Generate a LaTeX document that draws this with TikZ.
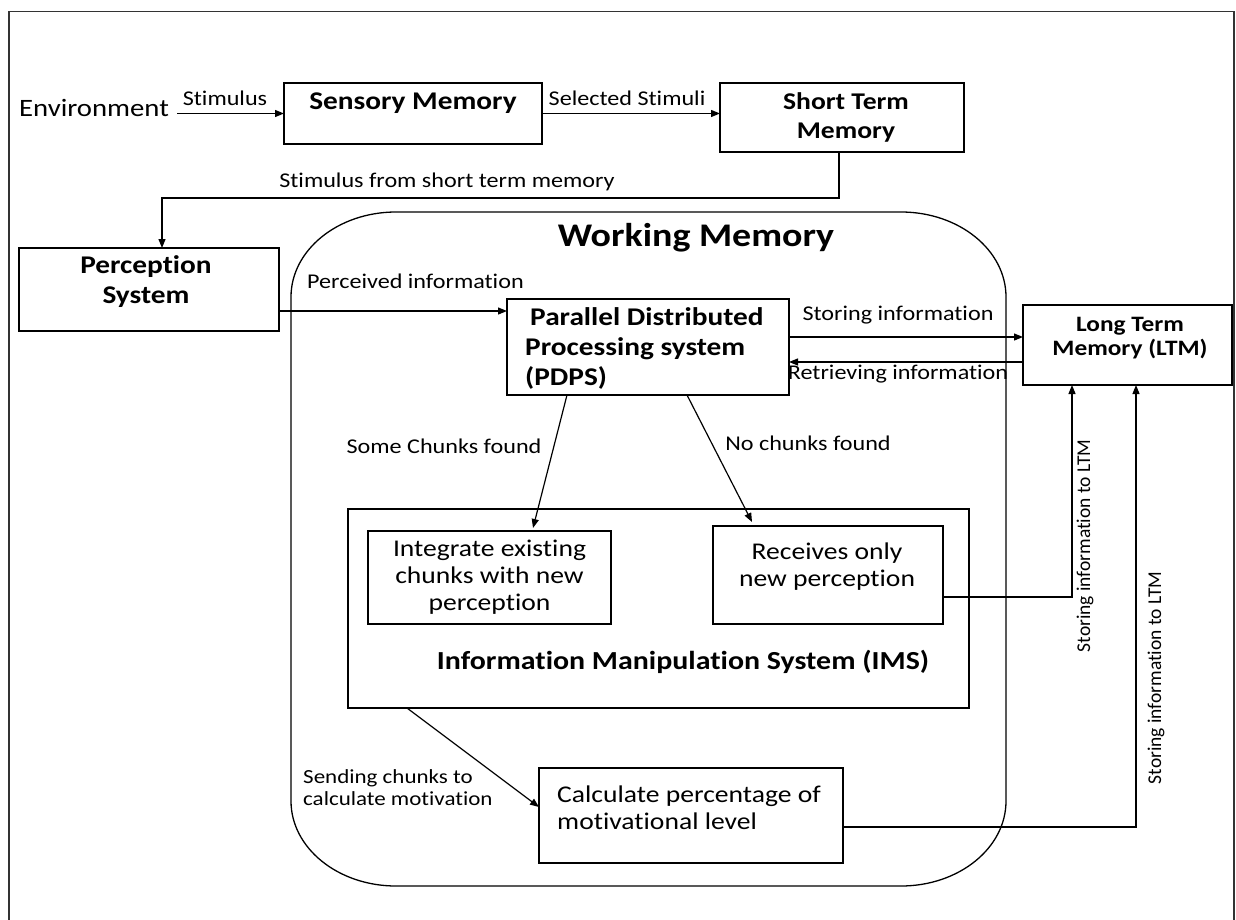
\documentclass[tikz,border=0pt]{standalone}
\usepackage{fontspec}
\setmainfont{Carlito}[FakeStretch=1.15, Ligatures={NoCommon}]
\newfontfamily\rotfamily{Carlito}[Ligatures={NoCommon}]
\usetikzlibrary{arrows.meta,calc}
\begin{document}
\begin{tikzpicture}[x=1pt,y=-1pt,
  box/.style={draw, line width=1.4pt, inner sep=0pt, outer sep=0pt},
  txt/.style={inner sep=0pt, align=center},
  arr/.style={line width=1.2pt, -{Triangle[length=9pt,width=7pt]}},
  ln/.style={line width=1.2pt},
  lbl/.style={inner sep=0pt, font=\fontsize{21}{24}\selectfont},
  bbold/.style={inner sep=0pt, align=center, font=\fontsize{25.5}{30}\selectfont\bfseries},
  breg/.style={inner sep=0pt, align=center, font=\fontsize{24}{27}\selectfont},
  rotlbl/.style={inner sep=0pt, rotate=90, font=\rotfamily\fontsize{19.5}{22}\selectfont}
]
\useasboundingbox (0,0) rectangle (1236,920);
\clip (0,0) rectangle (1236,920);
% outer frame
\draw[line width=1.2pt, black!80] (9,930) -- (9,11.5) -- (1234,11.5) -- (1234,930);

% working memory container
\draw[line width=1.3pt] (396,212) -- (901,212)
  .. controls (959,212) and (1006,250) .. (1006,297) -- (1006,801)
  .. controls (1006,848) and (959,886) .. (901,886) -- (396,886)
  .. controls (338,886) and (291,848) .. (291,801) -- (291,297)
  .. controls (291,250) and (338,212) .. (396,212) -- cycle;
\node[inner sep=0pt, font=\fontsize{33}{36}\selectfont\bfseries] (wmt) at (696,238) {Working Memory};

% boxes
\node[box, minimum width=258pt, minimum height=61pt] (sens) at (413,113.5) {};
\node[box, minimum width=244pt, minimum height=69pt] (stm) at (842,117.5) {};
\node[box, minimum width=260pt, minimum height=83pt] (perc) at (149,289.5) {};
\node[box, minimum width=282pt, minimum height=96pt] (pdps) at (648,347) {};
\node[box, minimum width=209pt, minimum height=80pt] (ltm) at (1127.5,345) {};
\node[box, minimum width=621pt, minimum height=199pt] (ims) at (658.5,608.5) {};
\node[box, minimum width=243pt, minimum height=93pt] (integ) at (489.5,577.5) {};
\node[box, minimum width=230pt, minimum height=98pt] (recv) at (828,575) {};
\node[box, minimum width=304pt, minimum height=95pt] (calc) at (691,815.5) {};

% texts
\node[inner sep=0pt, font=\fontsize{25}{28}\selectfont] (env) at (94,108) {Environment};
\node[bbold] (senst) at (413,103) {Sensory Memory};
\node[bbold, font=\fontsize{24}{29}\selectfont\bfseries] (stmt) at (846,117.5) {Short Term\\Memory};
\node[bbold] (perct) at (146,282) {Perception\\System};
\node[bbold, align=left, anchor=west] (pdpst) at (525,348.5) {\hspace{5pt}Parallel Distributed\\Processing system\\(PDPS)};
\node[bbold, font=\fontsize{22}{24}\selectfont\bfseries] (ltmt) at (1130,338) {Long Term\\Memory (LTM)};
\node[bbold, font=\fontsize{26}{30}\selectfont\bfseries] (imst) at (683,662) {Information Manipulation System (IMS)};
\node[breg] (integt) at (489.5,577) {Integrate existing\\chunks with new\\perception};
\node[breg] (recvt) at (827,566.5) {Receives only\\new perception};
\node[breg, align=left, anchor=west] (calct) at (557,807.5) {Calculate percentage of\\motivational level};

% labels
\node[lbl] (lstim) at (225,98) {Stimulus};
\node[lbl] (lsel) at (627,98) {Selected Stimuli};
\node[lbl] (lstp) at (447,182) {Stimulus from short term memory};
\node[lbl, anchor=west] (lperc) at (307,281) {Perceived information};
\node[lbl] (lstore) at (898,315) {Storing information};
\node[lbl] (lretr) at (898,374) {Retrieving information};
\node[lbl] (lsome) at (444,446) {Some Chunks found};
\node[lbl] (lno) at (808,443) {No chunks found};
\node[lbl, align=left, anchor=west, font=\fontsize{20}{22}\selectfont] (lsend) at (303,788) {Sending chunks to\\calculate motivation};
\node[rotlbl] (lrot1) at (1085,546) {Storing information to LTM};
\node[rotlbl] (lrot2) at (1156,678) {Storing information to LTM};

% connectors
\draw[arr] ($(sens.west -| env.east)+(8,0)$) -- (sens.west);
\draw[arr] (sens.east) -- (sens.east -| stm.west);
\draw[arr] ($(stm.south)+(-3,0)$) -- ($(stm.south)+(-3,46)$) -| ($(perc.north)+(13,0)$);
\draw[arr] ($(perc.east)+(0,21.5)$) -- ($(perc.east -| pdps.west)+(0,21.5)$);
\draw[arr] ($(pdps.east)+(0,-10)$) -- ($(pdps.east -| ltm.west)+(0,-10)$);
\draw[arr] ($(pdps.east -| ltm.west)+(0,15)$) -- ($(pdps.east)+(0,15)$);
\draw[arr] ($(pdps.south)+(-81,0)$) -- ($(integ.north)+(43.5,-3)$);
\draw[arr] ($(pdps.south)+(39,0)$) -- ($(recv.north)+(-76,-4)$);
\draw[arr] ($(recv.east)+(0,22)$) -| ($(ltm.south)+(-55.5,0)$);
\draw[arr] ($(ims.south)+(-251.5,0)$) -- ($(calc.west)+(0,-8.5)$);
\draw[arr] ($(calc.east)+(0,11.5)$) -| ($(ltm.south)+(8.5,0)$);
\end{tikzpicture}
\end{document}
